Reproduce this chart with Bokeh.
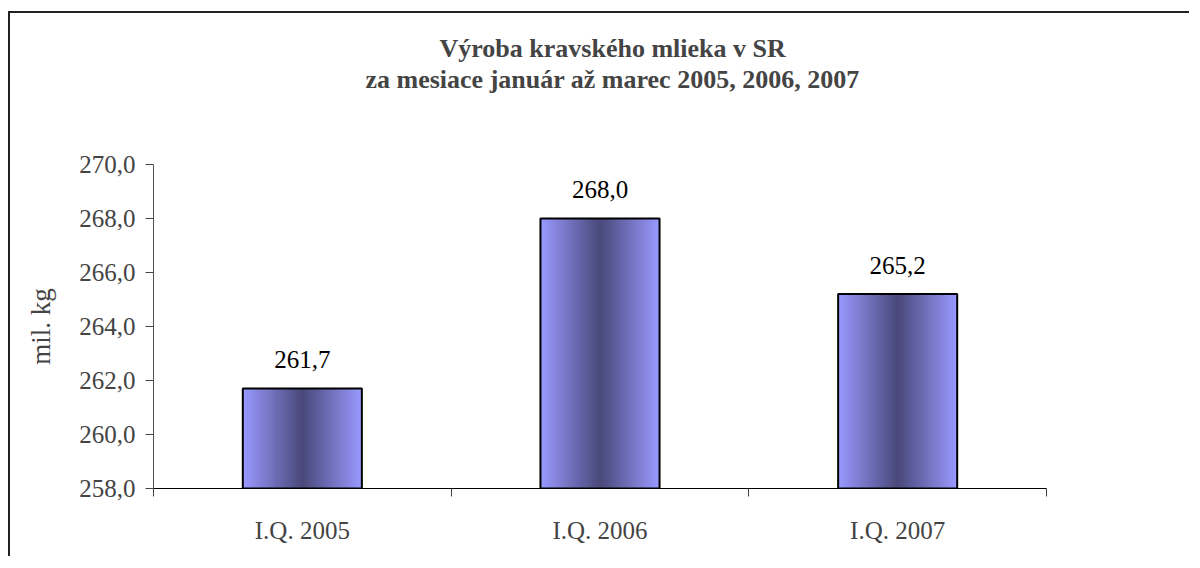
from bokeh.plotting import figure
from bokeh.models import Range1d, FixedTicker, LinearAxis, CustomJSTickFormatter, Title
from bokeh.embed import file_html
from bokeh.resources import INLINE
from bokeh.core.properties import value

# ---- data ----
categories = ["I.Q. 2005", "I.Q. 2006", "I.Q. 2007"]
production = [261.7, 268.0, 265.2]
y_ticks = [258.0, 260.0, 262.0, 264.0, 266.0, 268.0, 270.0]
title_lines = ["Výroba kravského mlieka v SR", "za mesiace január až marec 2005, 2006, 2007"]
y_label = "mil. kg"

FONT = "Liberation Serif"

W, H = 1181, 545
p = figure(width=W, height=H, output_backend="svg", toolbar_location=None,
           x_range=Range1d(0, len(categories)), y_range=Range1d(y_ticks[0], y_ticks[-1]),
           min_border_left=143, min_border_right=145, min_border_top=151, min_border_bottom=70)
p.margin = (11, 0, 0, 8)
p.styles = {"border-top": "2px solid #222", "border-left": "2px solid #222"}
p.outline_line_color = None
p.xgrid.visible = False
p.ygrid.visible = False
p.background_fill_color = "white"
p.border_fill_color = "white"
p.title = None

# title: spacer next to the frame, then line 2, then line 1
spacer = Title(text=" ", text_font_size="1px", standoff=68)
t2 = Title(text=title_lines[1], align="left", offset=212, text_font=FONT,
           text_font_style="bold", text_font_size="26px", standoff=0)
t1 = Title(text=title_lines[0], align="left", offset=286, text_font=FONT,
           text_font_style="bold", text_font_size="26px", standoff=0)
p.add_layout(spacer, "above")
p.add_layout(t2, "above")
p.add_layout(t1, "above")

centers = [i + 0.5 for i in range(len(categories))]
boundaries = list(range(len(categories) + 1))

# gradient bars from nested vbars
light = (0x99, 0x99, 0xFF)
dark = (0x4A, 0x4A, 0x7C)
N = 40
bar_w = 0.4
for k in range(N):
    t = k / (N - 1)
    c = tuple(int(round(light[j] + (dark[j] - light[j]) * t)) for j in range(3))
    p.vbar(x=centers, width=bar_w * (1 - k / N), bottom=y_ticks[0], top=production,
           fill_color="#%02x%02x%02x" % c, line_color=None)
p.vbar(x=centers, width=bar_w, bottom=y_ticks[0], top=production,
       fill_color=None, line_color="black", line_width=2)

labels = [f"{v:.1f}".replace(".", ",") for v in production]
p.text(x=centers, y=production, text=labels, text_align="center", text_baseline="alphabetic",
       y_offset=-29, text_font=value(FONT), text_font_size="25px", text_color="black")

# y axis
ya = p.yaxis[0]
ya.ticker = FixedTicker(ticks=y_ticks)
ya.formatter = CustomJSTickFormatter(code="return tick.toFixed(1).replace('.', ',');")
ya.minor_tick_line_color = None
ya.major_tick_in = 0
ya.major_tick_out = 8
ya.axis_line_color = "#555555"
ya.major_tick_line_color = "#444444"
ya.major_label_text_font = FONT
ya.major_label_text_font_size = "25px"
ya.major_label_standoff = 10
ya.axis_label = y_label
ya.axis_label_text_font = FONT
ya.axis_label_text_font_style = "normal"
ya.axis_label_text_font_size = "27px"
ya.axis_label_standoff = 20

# x axis: ticks at category boundaries
xa = p.xaxis[0]
xa.ticker = FixedTicker(ticks=boundaries)
xa.formatter = CustomJSTickFormatter(code="return '';")
xa.minor_tick_line_color = None
xa.major_tick_in = 0
xa.major_tick_out = 8
xa.axis_line_color = "black"
xa.major_tick_line_color = "#444444"
xa.major_label_standoff = 0

# category labels
xa2 = LinearAxis(ticker=FixedTicker(ticks=centers),
                 formatter=CustomJSTickFormatter(args=dict(cats=categories),
                                                 code="return cats[Math.floor(tick)];"))
xa2.axis_line_color = None
xa2.major_tick_line_color = None
xa2.minor_tick_line_color = None
xa2.major_label_text_font = FONT
xa2.major_label_text_font_size = "25px"
xa2.major_label_standoff = 14
p.add_layout(xa2, "below")

open("out.html", "w").write(file_html(p, INLINE))
